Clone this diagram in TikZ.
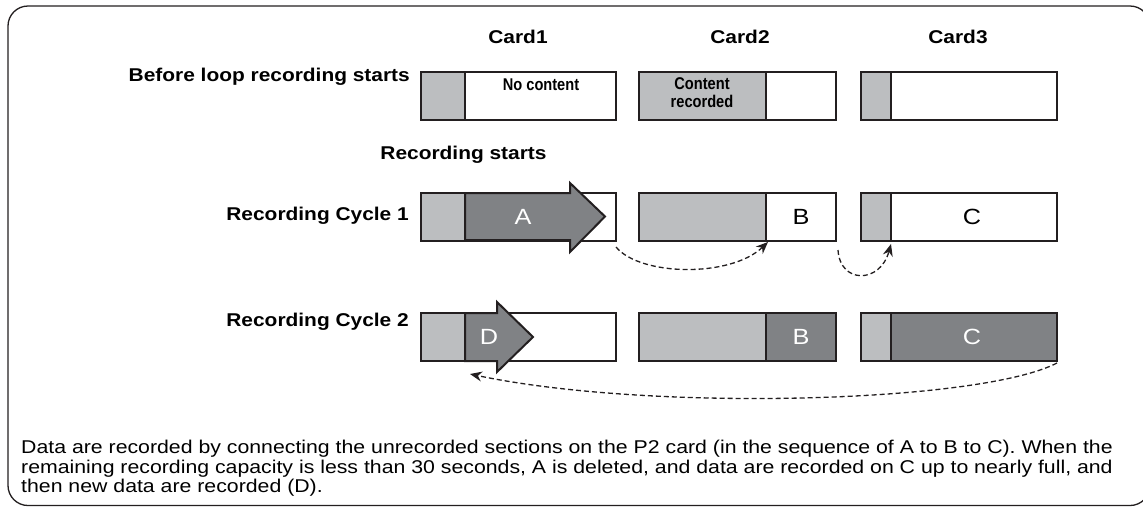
\documentclass[tikz,border=0pt]{standalone}
\usepackage{fontspec}
\setmainfont{Liberation Sans}
\newfontfamily\widebf[FakeStretch=1.13]{Liberation Sans Bold}
\newfontfamily\widerm[FakeStretch=1.15]{Liberation Sans}
\newfontfamily\narrowbf[FakeStretch=0.86]{Liberation Sans Bold}
\usetikzlibrary{arrows.meta}
\definecolor{lgray}{HTML}{BCBEC0}
\definecolor{dgray}{HTML}{808285}
\definecolor{ink}{HTML}{231F20}
\begin{document}
\begin{tikzpicture}[x=1pt,y=-1pt,
 seg/.style={draw=ink, line width=2.3pt, inner sep=0pt, outer sep=0pt, anchor=north west, minimum height=48pt},
 lbl/.style={font=\widebf\fontsize{18.5}{22}\selectfont, inner sep=0pt, text=black},
 small/.style={font=\narrowbf\fontsize{17}{20}\selectfont, inner sep=0pt, align=center, text=black},
 letter/.style={font=\widerm\fontsize{22}{26}\selectfont, inner sep=0pt},
 bigarrow/.style={draw=ink, fill=dgray, line width=2pt, line join=miter},
 flow/.style={draw=ink, line width=1.3pt, dash pattern=on 5pt off 3pt, -{Stealth[length=12pt,width=10pt]}}
]
\useasboundingbox (0,0) rectangle (1143,507);
\clip (0,0) rectangle (1143,507);
\draw[ink, line width=1.3pt, rounded corners=20pt] (8,6) rectangle (1150,505.5);

% titles
\node[lbl] (card1) at (518,37) {Card1};
\node[lbl] (card2) at (740,37) {Card2};
\node[lbl] (card3) at (958,37) {Card3};

% row labels
\node[lbl, anchor=east] (before) at (410,77) {Before loop recording starts};
\node[lbl] (recstart) at (463.5,155) {Recording starts};
\node[lbl, anchor=east] (cyc1) at (409,216) {Recording Cycle 1};
\node[lbl, anchor=east] (cyc2) at (409,322) {Recording Cycle 2};

% row 1
\node[seg, fill=lgray, minimum width=44pt] (r1c1g) at (421,72) {};
\node[seg, fill=white, minimum width=151pt] (r1c1w) at (465,72) {};
\node[seg, fill=lgray, minimum width=127pt] (r1c2g) at (639,72) {};
\node[seg, fill=white, minimum width=70pt] (r1c2w) at (766,72) {};
\node[seg, fill=lgray, minimum width=30pt] (r1c3g) at (861,72) {};
\node[seg, fill=white, minimum width=166pt] (r1c3w) at (891,72) {};
\node[small] (nocontent) at (541,85) {No content};
\node[small] (recorded) at (702,93) {Content\\[-2pt]recorded};

% row 2
\node[seg, fill=lgray, minimum width=44pt] (r2c1g) at (421,193) {};
\node[seg, fill=white, minimum width=151pt] (r2c1w) at (465,193) {};
\node[seg, fill=lgray, minimum width=127pt] (r2c2g) at (639,193) {};
\node[seg, fill=white, minimum width=70pt] (r2c2w) at (766,193) {};
\node[seg, fill=lgray, minimum width=30pt] (r2c3g) at (861,193) {};
\node[seg, fill=white, minimum width=166pt] (r2c3w) at (891,193) {};
\draw[bigarrow] (465,193) -- (570,193) -- (570,183) -- (605,216.5) -- (570,252) -- (570,240) -- (465,240) -- cycle;
\node[letter, text=white] (A) at (523,216.5) {A};
\node[letter, text=black] (B1) at (801,216.5) {B};
\node[letter, text=black] (C1) at (972,216.5) {C};

% row 3
\node[seg, fill=lgray, minimum width=44pt] (r3c1g) at (421,313) {};
\node[seg, fill=white, minimum width=151pt] (r3c1w) at (465,313) {};
\node[seg, fill=lgray, minimum width=127pt] (r3c2g) at (639,313) {};
\node[seg, fill=dgray, minimum width=70pt] (r3c2d) at (766,313) {};
\node[seg, fill=lgray, minimum width=30pt] (r3c3g) at (861,313) {};
\node[seg, fill=dgray, minimum width=166pt] (r3c3d) at (891,313) {};
\draw[bigarrow] (465,313) -- (497,313) -- (497,302) -- (533,337) -- (497,372) -- (497,361) -- (465,361) -- cycle;
\node[letter, text=white] (D) at (489,337) {D};
\node[letter, text=white] (B2) at (801,337) {B};
\node[letter, text=white] (C2) at (972,337) {C};

% flow arrows
\draw[flow] ([shift={(0pt,-6pt)}]r2c1w.south east) .. controls +(24,29) and +(-38,36) .. ([shift={(2pt,-1pt)}]r2c2w.south west);
\draw[flow] ([shift={(2pt,-9pt)}]r2c2w.south east) .. controls +(2,34) and +(-11,40) .. ([shift={(0pt,-3pt)}]r2c3g.south east);
\draw[flow] ([shift={(0pt,-2pt)}]r3c3d.south east) .. controls +(-77,40) and +(180,38) .. ([shift={(5pt,-13pt)}]r3c1w.south west);

% note
\node[anchor=north west, inner sep=0pt, align=left, font=\widerm\fontsize{18.5}{19.5}\selectfont] (note) at (21,440)
{Data are recorded by connecting the unrecorded sections on the P2 card (in the sequence of A to B to C). When the\\
remaining recording capacity is less than 30 seconds, A is deleted, and data are recorded on C up to nearly full, and\\
then new data are recorded (D).};
\end{tikzpicture}
\end{document}
